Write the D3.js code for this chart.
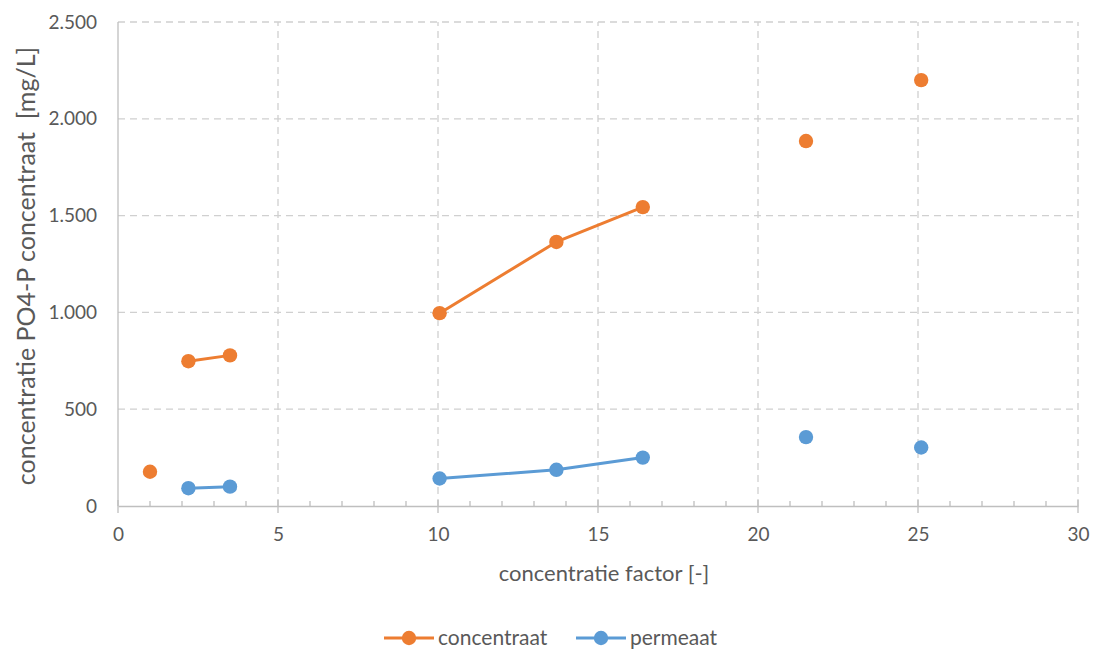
<!DOCTYPE html>
<html>
<head>
<meta charset="utf-8">
<script src="https://cdn.jsdelivr.net/npm/d3@7"></script>
<style>
  html, body { margin: 0; padding: 0; background: #fff; }
  svg { display: block; font-family: Lato, "Open Sans", sans-serif; }
</style>
</head>
<body>
<svg id="chart" width="1094" height="651"></svg>
<script>
// Concentration factor per sample
const factor = [1.0, 2.2, 3.5, 10.05, 13.7, 16.4, 21.5, 25.1];
// Measurement run each sample belongs to; points in the same run are joined
const run = [0, 1, 1, 2, 2, 2, 3, 4];
// PO4-P in concentrate and permeate [mg/L]
const concentraat = [177, 748, 778, 996, 1364, 1544, 1885, 2200];
const permeaat = [null, 92, 100, 142, 187, 250, 356, 302];

const xTicks = [0, 5, 10, 15, 20, 25, 30];
const yTicks = [0, 500, 1000, 1500, 2000, 2500];

const seriesNames = ["concentraat", "permeaat"];
const seriesColors = ["#ED7D31", "#5B9BD5"];

const svg = d3.select("#chart");
const margin = { left: 118, right: 16, top: 22, bottom: 145 };
const W = 1094, H = 651;

const x = d3.scaleLinear().domain([0, 30]).range([margin.left, W - margin.right]);
const y = d3.scaleLinear().domain([0, 2500]).range([H - margin.bottom, margin.top]);

const nl = d3.formatLocale({ decimal: ",", thousands: ".", grouping: [3], currency: ["€", ""] });
const fmt = nl.format(",");

const textColor = "#595959";
const gridColor = "#d0d0d0";
const axisColor = "#bfbfbf";
const font = "Lato, 'Open Sans', sans-serif";

// Gridlines
const grid = svg.append("g");
grid.selectAll("line.h").data(yTicks.filter(d => d > 0)).join("line")
  .attr("x1", x(0)).attr("x2", x(30))
  .attr("y1", d => y(d)).attr("y2", d => y(d))
  .attr("stroke", gridColor).attr("stroke-width", 1.3).attr("stroke-dasharray", "7,5");
grid.selectAll("line.v").data(xTicks.filter(d => d > 0)).join("line")
  .attr("x1", d => x(d)).attr("x2", d => x(d))
  .attr("y1", y(0)).attr("y2", y(2500))
  .attr("stroke", gridColor).attr("stroke-width", 1.3).attr("stroke-dasharray", "7,5");

// Y axis line
svg.append("line")
  .attr("x1", x(0)).attr("x2", x(0)).attr("y1", y(0)).attr("y2", y(2500))
  .attr("stroke", axisColor).attr("stroke-width", 1.3);

// Y axis labels
const yAxis = d3.axisLeft(y).tickValues(yTicks).tickFormat(fmt).tickSize(0).tickPadding(21);
const gy = svg.append("g").attr("transform", `translate(${x(0)},0)`).call(yAxis);
gy.select(".domain").remove();
gy.selectAll("text").attr("fill", textColor).style("font-size", "19px").style("font-family", font);

// X axis: minor ticks inside, major ticks crossing the line
const minor = d3.range(0, 31).filter(d => d % 5 !== 0);
svg.append("g").selectAll("line").data(minor).join("line")
  .attr("x1", d => x(d)).attr("x2", d => x(d))
  .attr("y1", y(0) - 5).attr("y2", y(0))
  .attr("stroke", axisColor).attr("stroke-width", 1.3);
svg.append("g").selectAll("line").data(xTicks).join("line")
  .attr("x1", d => x(d)).attr("x2", d => x(d))
  .attr("y1", y(0) - 6).attr("y2", y(0) + 7)
  .attr("stroke", axisColor).attr("stroke-width", 1.3);
const xAxis = d3.axisBottom(x).tickValues(xTicks).tickFormat(d3.format("d")).tickSize(0).tickPadding(22);
const gx = svg.append("g").attr("transform", `translate(0,${y(0)})`).call(xAxis);
gx.select(".domain").attr("stroke", axisColor).attr("stroke-width", 1.3);
gx.selectAll("text").attr("fill", textColor).style("font-size", "19px").style("font-family", font);

// Axis titles
svg.append("text")
  .attr("x", 604).attr("y", 581)
  .attr("text-anchor", "middle").attr("fill", textColor).style("font-size", "22px")
  .text("concentratie factor [-]");
svg.append("text")
  .attr("transform", `translate(35,${(y(0) + y(2500)) / 2 + 2}) rotate(-90)`)
  .attr("text-anchor", "middle").attr("fill", textColor).style("font-size", "25px")
  .style("white-space", "pre")
  .text("concentratie PO4-P concentraat  [mg/L]");

// Series
const allSeries = [concentraat, permeaat];
const lineGen = d3.line().x(d => x(d.x)).y(d => y(d.y));
allSeries.forEach((vals, si) => {
  const pts = factor.map((f, i) => ({ x: f, y: vals[i], run: run[i] })).filter(d => d.y != null);
  const runs = d3.groups(pts, d => d.run).map(g => g[1]).filter(g => g.length > 1);
  const g = svg.append("g");
  g.selectAll("path").data(runs).join("path")
    .attr("d", lineGen).attr("fill", "none")
    .attr("stroke", seriesColors[si]).attr("stroke-width", 3).attr("stroke-linejoin", "round");
  g.selectAll("circle").data(pts).join("circle")
    .attr("cx", d => x(d.x)).attr("cy", d => y(d.y)).attr("r", 7.2)
    .attr("fill", seriesColors[si]);
});

// Legend
const legendX = [384, 576];
const legendY = 638;
const lg = svg.append("g");
seriesNames.forEach((name, i) => {
  const lx = legendX[i];
  lg.append("line").attr("x1", lx).attr("x2", lx + 50).attr("y1", legendY).attr("y2", legendY)
    .attr("stroke", seriesColors[i]).attr("stroke-width", 3);
  lg.append("circle").attr("cx", lx + 25).attr("cy", legendY).attr("r", 7.2).attr("fill", seriesColors[i]);
  lg.append("text").attr("x", lx + 54).attr("y", legendY + 7)
    .attr("fill", textColor).style("font-size", "21px").text(name);
});
</script>
</body>
</html>
